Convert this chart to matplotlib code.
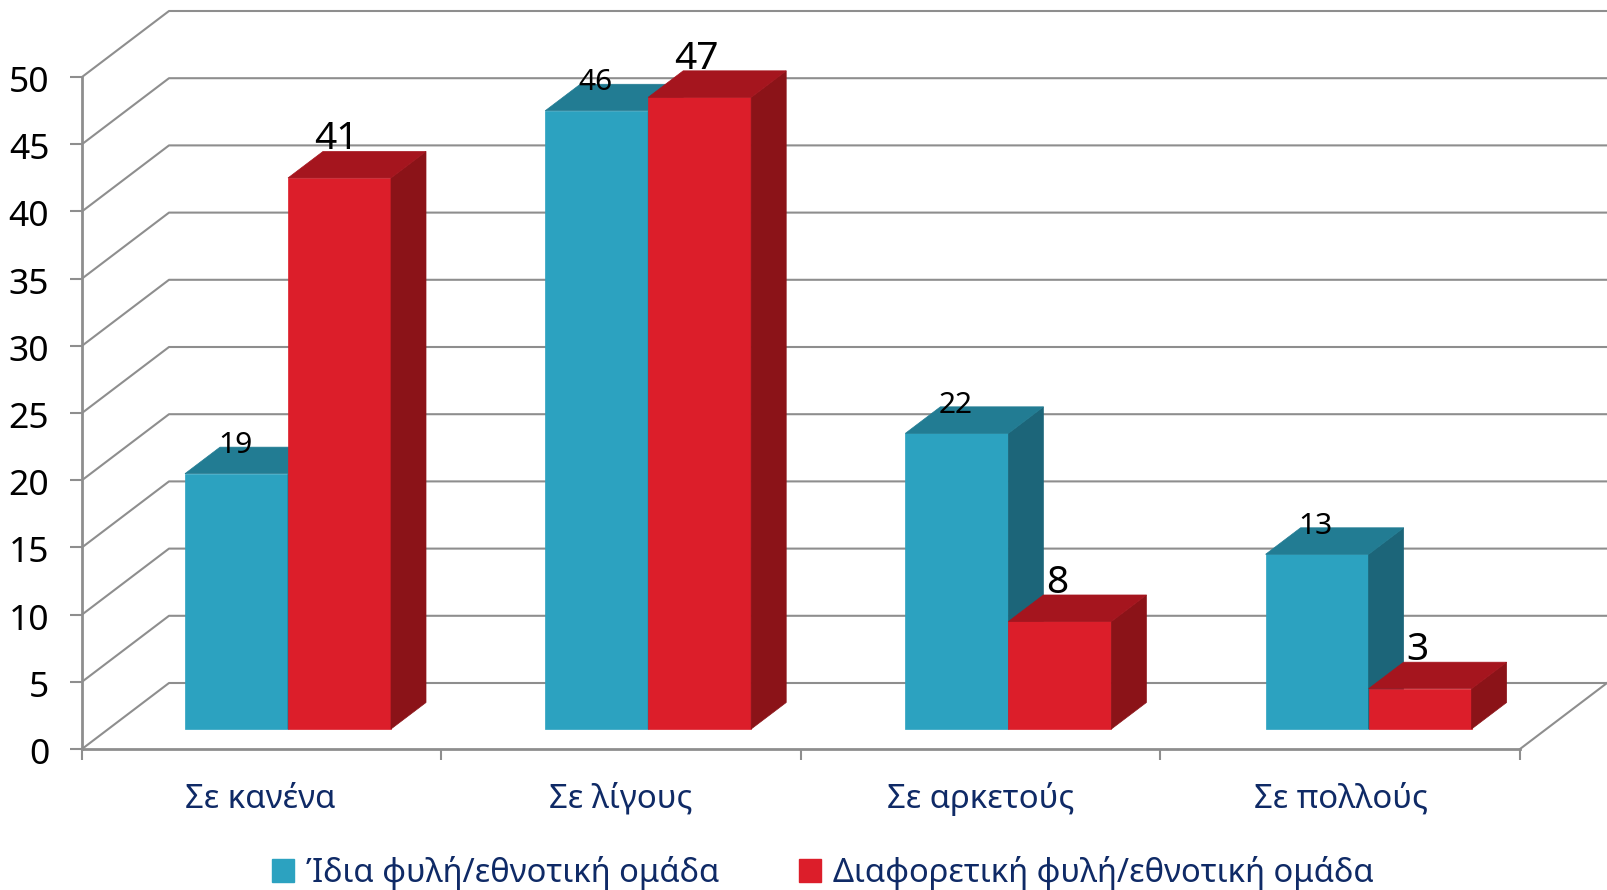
import matplotlib
matplotlib.use("Agg")
import matplotlib.pyplot as plt
from matplotlib.patches import Polygon, Patch
from matplotlib.transforms import ScaledTranslation

plt.rcParams['font.family'] = ['Noto Sans', 'DejaVu Sans']

# Datos
categorias = ['Σε κανένα', 'Σε λίγους', 'Σε αρκετούς', 'Σε πολλούς']
ydia = [19, 46, 22, 13]
diaforetiki = [41, 47, 8, 3]
nombres = ['Ίδια φυλή/εθνοτική ομάδα', 'Διαφορετική φυλή/εθνοτική ομάδα']
valores_y = list(range(0, 55, 5))

W, H = 1608, 890
# caja de los ejes en pixeles
x0, x1, y0, y1 = 82, 1520, 749, 77
px_x = (x1 - x0) / 4
px_y = (y0 - y1) / 50

# profundidad del suelo y de las barras, en unidades de los ejes
prof_x, prof_y = 87 / px_x, 66 / px_y
bar_dx, bar_dy = 35 / px_x, 26.5 / px_y
ancho = 103 / px_x
margen = 103 / px_x
paso = 360.2 / px_x
base = 20 / px_y

GRIS = '#8e8e8e'
AZUL_TXT = '#0f2a66'
COL_A = ('#2ca2c0', '#227c93', '#1c6579')
COL_B = ('#dc1e2a', '#a5151e', '#8b1318')


def barra(ax, x, v, cols):
    frente, arriba, lado = cols
    top = base + v
    ax.add_patch(Polygon([(x, base), (x + ancho, base), (x + ancho, top), (x, top)],
                         fc=frente, ec=frente, lw=0.5, clip_on=False, zorder=3))
    ax.add_patch(Polygon([(x + ancho, base), (x + ancho + bar_dx, base + bar_dy),
                          (x + ancho + bar_dx, top + bar_dy), (x + ancho, top)],
                         fc=lado, ec=lado, lw=0.5, clip_on=False, zorder=3))
    ax.add_patch(Polygon([(x, top), (x + bar_dx, top + bar_dy),
                          (x + ancho + bar_dx, top + bar_dy), (x + ancho, top)],
                         fc=arriba, ec=arriba, lw=0.5, clip_on=False, zorder=3))


fig = plt.figure(figsize=(W / 100, H / 100), dpi=100)
ax = fig.add_axes([x0 / W, 1 - y0 / H, (x1 - x0) / W, (y0 - y1) / H])
ax.set_xlim(0, 4)
ax.set_ylim(0, 50)

# pared del fondo y diagonales
for v in valores_y:
    ax.plot([0, prof_x, 4 + prof_x], [v, v + prof_y, v + prof_y],
            color=GRIS, lw=1.5, clip_on=False, zorder=1)
ax.plot([4, 4 + prof_x], [0, prof_y], color=GRIS, lw=1.5, clip_on=False, zorder=1)

for s in ['top', 'right']:
    ax.spines[s].set_visible(False)
for s in ['left', 'bottom']:
    ax.spines[s].set_color(GRIS)
    ax.spines[s].set_linewidth(2)

ax.set_yticks(valores_y)
ax.tick_params(axis='y', length=8.5, width=1.5, color=GRIS, labelsize=25.5, pad=15, labelcolor='black')
# bajar un poco los numeros del eje y
for lab in ax.get_yticklabels():
    lab.set_transform(lab.get_transform() + ScaledTranslation(0, -1.5 / 72, fig.dpi_scale_trans))
ax.set_xticks(range(5))
ax.set_xticklabels([])
ax.tick_params(axis='x', length=8, width=1.5, color=GRIS)

for i, cat in enumerate(categorias):
    xa = i * paso + margen
    barra(ax, xa, ydia[i], COL_A)
    barra(ax, xa + ancho, diaforetiki[i], COL_B)
    ax.text(xa + ancho / 2 - 0.004, base + ydia[i] + bar_dy + 0.13, str(ydia[i]), ha='center', va='center',
            fontsize=21.5, color='black', zorder=5)
    ax.text(xa + ancho * 1.5 - 0.008, base + diaforetiki[i] + bar_dy + 0.9, str(diaforetiki[i]), ha='center',
            va='center', fontsize=28, color='black', zorder=5)
    ax.text(i * paso + 0.497, -3.73, cat, ha='center', va='center', fontsize=23.7, color=AZUL_TXT)

# Leyenda
h = [Patch(fc=COL_A[0], ec=COL_A[0]), Patch(fc=COL_B[0], ec=COL_B[0])]
ax.legend(h, nombres, loc='center', bbox_to_anchor=(823 / W, 1 - 873 / H), bbox_transform=fig.transFigure,
          ncol=2, frameon=False, fontsize=23.6, labelcolor=AZUL_TXT, handlelength=0.66, handleheight=0.66,
          handletextpad=0.36, columnspacing=2.45, borderpad=0, borderaxespad=0)

fig.savefig('out.png', dpi=100)
